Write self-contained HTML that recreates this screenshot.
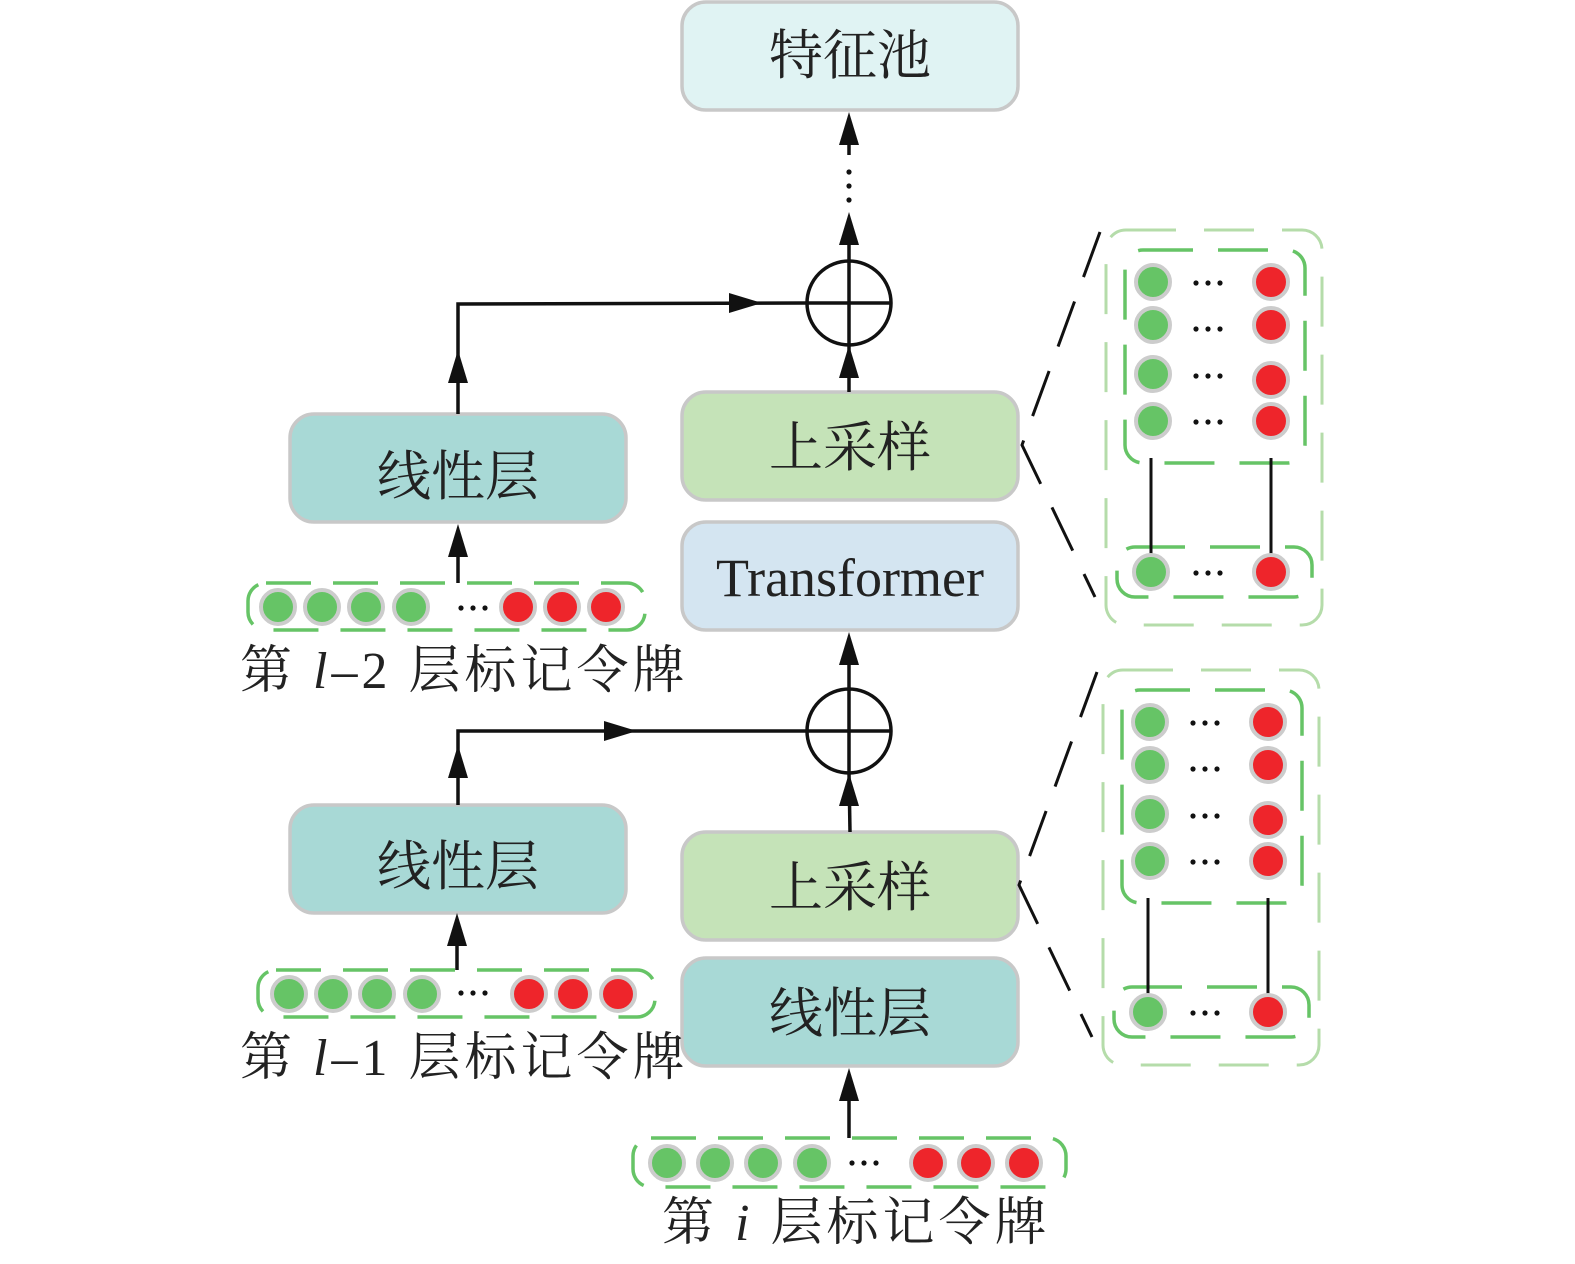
<!DOCTYPE html>
<html><head><meta charset="utf-8"><style>
html,body{margin:0;padding:0;background:#fff;}
svg{display:block;}
.cn{font-family:"Liberation Serif","Noto Serif CJK SC",serif;fill:#222;}
</style></head><body>
<svg width="1575" height="1264" viewBox="0 0 1575 1264" xmlns="http://www.w3.org/2000/svg">
<defs>
<g id="g"><circle r="17" fill="#66c466" stroke="#cccccc" stroke-width="4"/></g>
<g id="r"><circle r="17" fill="#ee252b" stroke="#cccccc" stroke-width="4"/></g>
<g id="au"><polygon points="0,0 -10,33 10,33" fill="#111"/></g>
<g id="ar"><polygon points="0,0 -33,-10 -33,10" fill="#111"/></g>
<g id="dots"><circle cx="-12" r="2.6" fill="#111"/><circle cx="0" r="2.6" fill="#111"/><circle cx="12" r="2.6" fill="#111"/></g>
</defs>

<g stroke="#c8c8c8" stroke-width="3.5">
<rect x="682" y="2" width="336" height="108" rx="24" fill="#e0f3f3"/>
<rect x="682" y="392" width="336" height="108" rx="24" fill="#c5e3b8"/>
<rect x="682" y="522" width="336" height="108" rx="24" fill="#d4e5f1"/>
<rect x="290" y="414" width="336" height="108" rx="24" fill="#a8d9d6"/>
<rect x="290" y="805" width="336" height="108" rx="24" fill="#a8d9d6"/>
<rect x="682" y="832" width="336" height="108" rx="24" fill="#c5e3b8"/>
<rect x="682" y="958" width="336" height="108" rx="24" fill="#a8d9d6"/>
</g>
<g class="cn" font-size="54" text-anchor="middle">
<text x="850" y="74">特征池</text>
<text x="850" y="466">上采样</text>
<text x="850" y="596" font-size="54">Transformer</text>
<text x="458" y="495">线性层</text>
<text x="458" y="885">线性层</text>
<text x="850" y="906">上采样</text>
<text x="850" y="1032">线性层</text>
</g>

<g stroke="#111" stroke-width="3.5" fill="none">
<circle cx="849" cy="303" r="42"/>
<circle cx="849" cy="731" r="42"/>
<line x1="849" y1="240" x2="849" y2="345"/>
<line x1="807" y1="303" x2="891" y2="303"/>
<line x1="849" y1="345" x2="849" y2="392"/>
<line x1="849" y1="689" x2="849" y2="773"/>
<line x1="807" y1="731" x2="891" y2="731"/>
<line x1="849" y1="660" x2="849" y2="689"/>
<line x1="849" y1="773" x2="850" y2="832"/>
<line x1="849" y1="1100" x2="849" y2="1138"/>
<polyline points="458,414 458,304 807,303"/>
<line x1="458" y1="552" x2="458" y2="583"/>
<polyline points="458,805 458,731 807,731"/>
<line x1="457" y1="945" x2="457" y2="970"/>
<line x1="849" y1="140" x2="849" y2="155"/>
</g>
<g fill="#111"><circle cx="849" cy="172" r="2.6"/><circle cx="849" cy="186" r="2.6"/><circle cx="849" cy="200" r="2.6"/></g>
<use href="#au" x="849" y="112"/>
<use href="#au" x="849" y="212"/>
<use href="#au" x="849" y="345"/>
<use href="#au" x="849" y="632"/>
<use href="#au" x="849" y="773"/>
<use href="#au" x="849" y="1068"/>
<use href="#au" x="458" y="350"/>
<use href="#au" x="458" y="524"/>
<use href="#au" x="458" y="745"/>
<use href="#au" x="457" y="913"/>
<use href="#ar" x="762" y="303"/>
<use href="#ar" x="637" y="731"/>

<g stroke="#66c466" stroke-width="3.5" fill="none" stroke-dasharray="45,22">
<rect x="248" y="583" width="397" height="47" rx="18"/>
<rect x="258" y="970" width="397" height="47" rx="18"/>
<rect x="633" y="1138" width="433" height="49" rx="18"/>
</g>
<use href="#g" x="278" y="607"/><use href="#g" x="322" y="607"/><use href="#g" x="366" y="607"/><use href="#g" x="411" y="607"/>
<use href="#dots" x="473" y="608"/>
<use href="#r" x="518" y="607"/><use href="#r" x="562" y="607"/><use href="#r" x="606" y="607"/>

<use href="#g" x="289" y="994"/><use href="#g" x="333" y="994"/><use href="#g" x="377" y="994"/><use href="#g" x="422" y="994"/>
<use href="#dots" x="473" y="993"/>
<use href="#r" x="529" y="994"/><use href="#r" x="573" y="994"/><use href="#r" x="618" y="994"/>

<use href="#g" x="667" y="1163"/><use href="#g" x="715" y="1163"/><use href="#g" x="763" y="1163"/><use href="#g" x="812" y="1163"/>
<use href="#dots" x="864" y="1163"/>
<use href="#r" x="928" y="1163"/><use href="#r" x="976" y="1163"/><use href="#r" x="1024" y="1163"/>

<g class="cn" font-size="52" letter-spacing="4">
<text x="240" y="688">第 <tspan font-style="italic">l</tspan>–2 层标记令牌</text>
<text x="240" y="1075">第 <tspan font-style="italic">l</tspan>–1 层标记令牌</text>
<text x="662" y="1240">第 <tspan font-style="italic">i</tspan> 层标记令牌</text>
</g>

<g id="panel">
<rect x="1106" y="230" width="216" height="395" rx="20" stroke="#b5dcaa" stroke-width="3" fill="none" stroke-dasharray="50,28"/>
<rect x="1125" y="250" width="180" height="213" rx="18" stroke="#66c466" stroke-width="3.5" fill="none" stroke-dasharray="50,25"/>
<rect x="1117" y="547" width="195" height="50" rx="18" stroke="#66c466" stroke-width="3.5" fill="none" stroke-dasharray="50,25"/>
<line x1="1151" y1="458" x2="1151" y2="560" stroke="#111" stroke-width="3"/>
<line x1="1271" y1="458" x2="1271" y2="560" stroke="#111" stroke-width="3"/>
<use href="#g" x="1153" y="282"/><use href="#g" x="1153" y="325"/><use href="#g" x="1153" y="374"/><use href="#g" x="1153" y="421"/>
<use href="#r" x="1271" y="282"/><use href="#r" x="1271" y="325"/><use href="#r" x="1271" y="380"/><use href="#r" x="1271" y="421"/>
<use href="#dots" x="1208" y="283"/><use href="#dots" x="1208" y="329"/><use href="#dots" x="1208" y="376"/><use href="#dots" x="1208" y="422"/>
<use href="#g" x="1151" y="572"/><use href="#dots" x="1208" y="573"/><use href="#r" x="1271" y="572"/>
<polyline points="1100,232 1022,445 1095,597" stroke="#111" stroke-width="3" fill="none" stroke-dasharray="48,26"/>
</g>
<use href="#panel" x="-3" y="440"/>
</svg>
</body></html>
